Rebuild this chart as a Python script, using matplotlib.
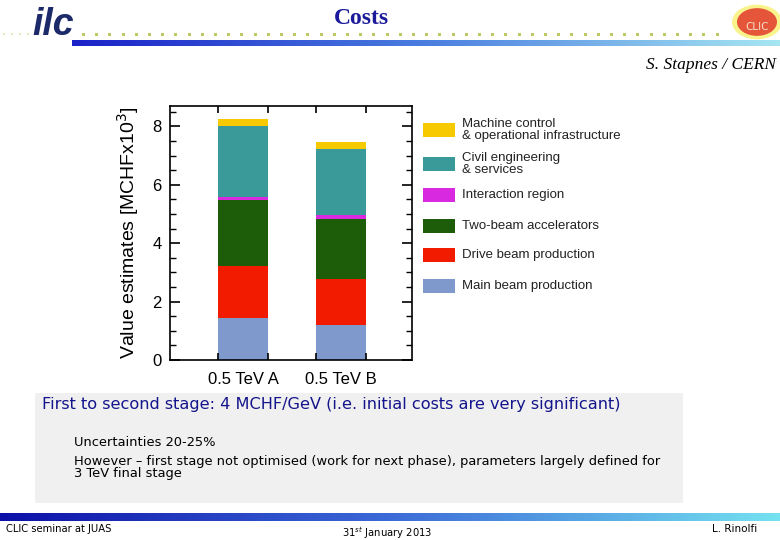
import numpy as np
import matplotlib
matplotlib.use("Agg")
import matplotlib.pyplot as plt
from matplotlib.patches import Rectangle, Circle
from matplotlib.ticker import MultipleLocator
from matplotlib.colors import LinearSegmentedColormap

# ---------------- data ----------------
scenarios = ["0.5 TeV A", "0.5 TeV B"]
components = ["Main beam production", "Drive beam production", "Two-beam accelerators",
              "Interaction region", "Civil engineering\n& services",
              "Machine control\n& operational infrastructure"]
main_beam = [1.43, 1.19]
drive_beam = [1.80, 1.59]
two_beam = [2.26, 2.05]
interaction = [0.11, 0.15]
civil = [2.42, 2.24]
machine = [0.24, 0.23]
series = [main_beam, drive_beam, two_beam, interaction, civil, machine]
colors = ["#7f99cc", "#f21b00", "#1d5c08", "#d829e0", "#3a9999", "#f7c900"]

W, H = 780, 540
fig = plt.figure(figsize=(W / 100, H / 100), dpi=100)
fig.patch.set_facecolor("white")


def px(x, y):
    return x / W, 1 - y / H


# ---------------- header ----------------
for x in np.arange(4, 36, 8):
    fig.add_artist(Circle(px(x, 34), 0.9 / W, transform=fig.transFigure,
                          color="#c8cc60", lw=0))
for x in np.arange(82, 720, 13.2):
    fig.add_artist(Rectangle(px(x, 35.5), 3 / W, 3 / H, transform=fig.transFigure,
                             color="#c0c860", lw=0))
grad = np.linspace(0, 1, 256)[None, :]
gax = fig.add_axes([72 / W, 1 - 46.5 / H, (780 - 72) / W, 6.5 / H])
cm_top = LinearSegmentedColormap.from_list("t", ["#1a22c8", "#4a7ee0", "#a6e6f2"])
gax.imshow(grad, aspect="auto", cmap=cm_top)
gax.axis("off")

fig.text(*px(53, 25), "ilc", fontsize=27, fontweight="bold", style="italic",
         color="#1c2a6a", ha="center", va="center",
         family=["Liberation Sans Narrow", "Liberation Sans"])
fig.text(*px(361, 18), "Costs", fontsize=17, fontweight="bold", color="#1a1a9a",
         ha="center", va="center", family="Liberation Serif")
# CLIC logo
fig.add_artist(Circle(px(757, 22), 25 / W, transform=fig.transFigure,
                      color="#f8f070", lw=0, alpha=0.8))
fig.add_artist(Circle(px(757, 22), 20 / W, transform=fig.transFigure,
                      color="#e4553a", lw=0))
fig.text(*px(757, 27), "CLIC", fontsize=7.5, color="#f4e0c8", ha="center",
         va="center", family="DejaVu Sans")
fig.text(*px(776, 65), "S. Stapnes / CERN", fontsize=12.5, style="italic",
         color="black", ha="right", va="center", family="Liberation Serif")

# ---------------- chart ----------------
ax = fig.add_axes([170 / W, 1 - 360 / H, (412 - 170) / W, (360 - 106) / H])
x = np.arange(len(scenarios))
bottom = np.zeros(len(scenarios))
for vals, col, lab in zip(series, colors, components):
    ax.bar(x, vals, width=0.51, bottom=bottom, color=col, label=lab, lw=0)
    bottom += np.array(vals)

ax.set_xlim(-0.75, 1.73)
ax.set_ylim(0, 8.7)
ax.yaxis.set_major_locator(MultipleLocator(2))
ax.yaxis.set_minor_locator(MultipleLocator(0.5))
ax.set_xticks(x)
ax.set_xticklabels(scenarios, fontsize=12, family="Liberation Sans")
ax.set_xticks(np.concatenate([x - 0.255, x + 0.255]), minor=True)
ax.tick_params(axis="x", which="major", length=0, pad=9)
ax.tick_params(axis="x", which="minor", direction="in", length=5, width=1.2,
               top=True, bottom=True)
ax.tick_params(axis="y", which="major", direction="in", length=7, width=1.2,
               left=True, right=True, labelsize=12, pad=6)
ax.tick_params(axis="y", which="minor", direction="in", length=4, width=1,
               left=True, right=True)
for lab in ax.get_yticklabels():
    lab.set_family("Liberation Sans")
for s in ax.spines.values():
    s.set_linewidth(1.2)
ax.set_ylabel("Value estimates [MCHFx10$^3$]", fontsize=14, family="Liberation Sans",
              labelpad=8)

# legend (drawn manually to match row layout)
leg_rows = [286, 255, 226, 195, 164, 130]
for lab, col, yc in zip(components, colors, leg_rows):
    fig.add_artist(Rectangle(px(423, yc + 7), 32 / W, 14 / H,
                             transform=fig.transFigure, color=col, lw=0))
    fig.text(*px(462, yc), lab, fontsize=9.5, color="#222222", ha="left",
             va="center", family="Liberation Sans", linespacing=0.92)

# ---------------- text box ----------------
fig.add_artist(Rectangle(px(35, 503), (683 - 35) / W, (503 - 393) / H,
                         transform=fig.transFigure, color="#f0f0f0", lw=0))
fig.text(*px(42, 405), "First to second stage: 4 MCHF/GeV (i.e. initial costs are very significant)",
         fontsize=11.6, color="#14148c", ha="left", va="center", family="DejaVu Sans")
fig.text(*px(74, 443), "Uncertainties 20-25%", fontsize=9.4, color="black",
         ha="left", va="center", family="DejaVu Sans")
fig.text(*px(74, 467),
         "However – first stage not optimised (work for next phase), parameters largely defined for\n3 TeV final stage",
         fontsize=9.4, color="black", ha="left", va="center", family="DejaVu Sans",
         linespacing=0.9)

# ---------------- footer ----------------
fax = fig.add_axes([0, 1 - 521 / H, 1, 8 / H])
cm_bot = LinearSegmentedColormap.from_list("b", ["#0c10a8", "#3c6ad8", "#74e2f0"])
fax.imshow(grad, aspect="auto", cmap=cm_bot)
fax.axis("off")
fig.text(*px(6, 529), "CLIC seminar at JUAS", fontsize=7.2, ha="left", va="center",
         family="DejaVu Sans")
fig.text(*px(387, 533), "31$^{st}$ January 2013", fontsize=7.2, ha="center",
         va="center", family="DejaVu Sans")
fig.text(*px(712, 529), "L. Rinolfi", fontsize=7.5, ha="left", va="center",
         family="DejaVu Sans")

fig.savefig("out.png", dpi=100)
